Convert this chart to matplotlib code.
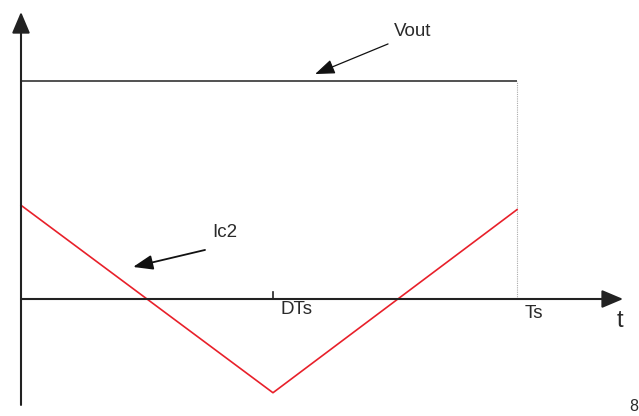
import matplotlib
matplotlib.use("Agg")
import matplotlib.pyplot as plt

# Data (time in units of Ts, values normalised to Vout)
D = 0.508
t_points = [0.0, D, 1.0]
ic2_values = [0.43, -0.43, 0.41]
vout_level = 1.0
tick_positions = [D, 1.0]
tick_labels = ["DTs", "Ts"]

plt.rcParams['font.family'] = ['Liberation Sans', 'DejaVu Sans']
fig = plt.figure(figsize=(6.39, 4.16), dpi=100)
ax = fig.add_axes([0, 0, 1, 1])
ax.set_xlim(-21/496, (639-21)/496)
ax.set_ylim(-117/218, 299/218)
ax.axis('off')

axcol = '#222222'
txtcol = '#2a2a2a'
# axes with arrows
ax.annotate('', xy=(1.214, 0), xytext=(0, 0),
            arrowprops=dict(arrowstyle='-|>,head_length=1.3,head_width=0.55', color=axcol, lw=1.5, shrinkA=0, shrinkB=0))
ax.annotate('', xy=(0, 1.317), xytext=(0, -0.486),
            arrowprops=dict(arrowstyle='-|>,head_length=1.3,head_width=0.55', color=axcol, lw=1.5, shrinkA=0, shrinkB=0))

# Vout
ax.plot([0, t_points[-1]], [vout_level, vout_level], color='#333333', lw=1.2, solid_capstyle='butt')
# dotted line at Ts
ax.plot([1.0, 1.0], [0, vout_level], color='#aaaaaa', lw=0.8, ls=(0, (1, 1)))
# Ic2
ax.plot(t_points, ic2_values, color='#e8202a', lw=1.2)

# tick at DTs
ax.plot([D, D], [0, 0.032], color=axcol, lw=1.2)

label_offsets = [(0.048, -0.05), (0.035, -0.068)]
for pos, lab, (dx, dy) in zip(tick_positions, tick_labels, label_offsets):
    ax.text(pos + dx, dy, lab, ha='center', va='center', fontsize=13.5, color=txtcol)
ax.text(1.208, -0.1, 't', ha='center', va='center', fontsize=17, color=txtcol)

# annotations
ax.annotate('', xy=(0.593, 1.032), xytext=(0.740, 1.170),
            arrowprops=dict(arrowstyle='-|>,head_length=1.2,head_width=0.45', color='#111111', lw=0.9, shrinkA=0, shrinkB=0))
ax.text(0.790, 1.229, 'Vout', ha='center', va='center', fontsize=13.5, color=txtcol)
ax.annotate('', xy=(0.226, 0.147), xytext=(0.371, 0.225),
            arrowprops=dict(arrowstyle='-|>,head_length=1.2,head_width=0.45', color='#111111', lw=1.3, shrinkA=0, shrinkB=0))
ax.text(0.411, 0.303, 'Ic2', ha='center', va='center', fontsize=13.5, color=txtcol)

fig.text(629/639, 2/416, '8', ha='left', va='bottom', fontsize=11.5, color=txtcol)

fig.savefig('out.png', dpi=100)
